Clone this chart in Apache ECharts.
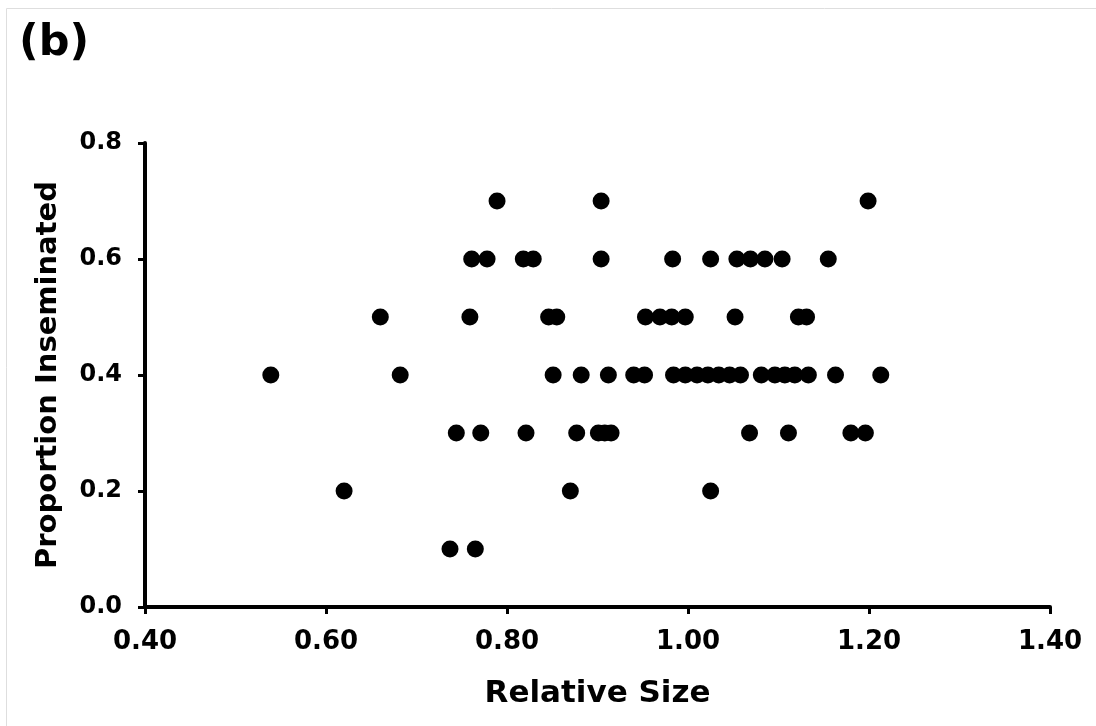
<!DOCTYPE html>
<html>
<head>
<meta charset="utf-8">
<script src="https://cdn.jsdelivr.net/npm/echarts@6/dist/echarts.min.js"></script>
<style>
html,body{margin:0;padding:0;background:#fff;}
#chart{width:1096px;height:726px;}
</style>
</head>
<body>
<div id="chart"></div>
<script>
// Relative size values grouped by proportion inseminated
var p07 = [0.789, 0.904, 1.199];
var p06 = [0.761, 0.778, 0.818, 0.829, 0.904, 0.983, 1.025, 1.054, 1.069, 1.085, 1.104, 1.155];
var p05 = [0.660, 0.759, 0.846, 0.855, 0.953, 0.969, 0.982, 0.997, 1.052, 1.122, 1.131];
var p04 = [0.539, 0.682, 0.851, 0.882, 0.912, 0.940, 0.952, 0.984, 0.997, 1.010, 1.022, 1.034, 1.046, 1.058, 1.081, 1.096, 1.107, 1.118, 1.133, 1.163, 1.213];
var p03 = [0.744, 0.771, 0.821, 0.877, 0.901, 0.908, 0.915, 1.068, 1.111, 1.180, 1.196];
var p02 = [0.620, 0.870, 1.025];
var p01 = [0.737, 0.765];
var levels = [0.7, 0.6, 0.5, 0.4, 0.3, 0.2, 0.1];
var groups = [p07, p06, p05, p04, p03, p02, p01];

var points = [];
groups.forEach(function (g, i) {
  g.forEach(function (x) { points.push([x, levels[i]]); });
});

var font = 'DejaVu Sans';
var chart = echarts.init(document.getElementById('chart'));
chart.setOption({
  animation: false,
  backgroundColor: '#fff',
  title: {
    text: '(b)', left: 14, top: 17,
    textStyle: {fontFamily: font, fontWeight: 'bold', fontSize: 43, color: '#000'}
  },
  graphic: [{
    type: 'rect', shape: {x: 6.5, y: 8.5, width: 1200, height: 800},
    style: {fill: 'none', stroke: '#dedede', lineWidth: 1}, silent: true
  }],
  grid: {left: 145, right: 46, top: 143, bottom: 119},
  xAxis: {
    type: 'value', min: 0.4, max: 1.4, interval: 0.2,
    name: 'Relative Size', nameLocation: 'middle', nameGap: 71,
    nameTextStyle: {fontFamily: font, fontWeight: 'bold', fontSize: 31, color: '#000'},
    axisLine: {show: true, onZero: false, lineStyle: {color: '#000', width: 4}},
    axisTick: {show: true, inside: false, length: 7, lineStyle: {color: '#000', width: 3}},
    axisLabel: {margin: 22, fontFamily: font, fontWeight: 'bold', fontSize: 26, color: '#000',
      formatter: function (v) { return v.toFixed(2); }},
    splitLine: {show: false}
  },
  yAxis: {
    type: 'value', min: 0, max: 0.8, interval: 0.2,
    name: 'Proportion Inseminated', nameLocation: 'middle', nameGap: 82,
    nameTextStyle: {fontFamily: font, fontWeight: 'bold', fontSize: 29, color: '#000'},
    axisLine: {show: true, lineStyle: {color: '#000', width: 4}},
    axisTick: {show: true, inside: false, length: 7, lineStyle: {color: '#000', width: 3}},
    axisLabel: {margin: 23, fontFamily: font, fontWeight: 'bold', fontSize: 24, color: '#000',
      formatter: function (v) { return v.toFixed(1); }},
    splitLine: {show: false}
  },
  series: [{
    type: 'scatter',
    data: points,
    symbol: 'circle',
    symbolSize: 17,
    itemStyle: {color: '#000', opacity: 1}
  }]
});
</script>
</body>
</html>
